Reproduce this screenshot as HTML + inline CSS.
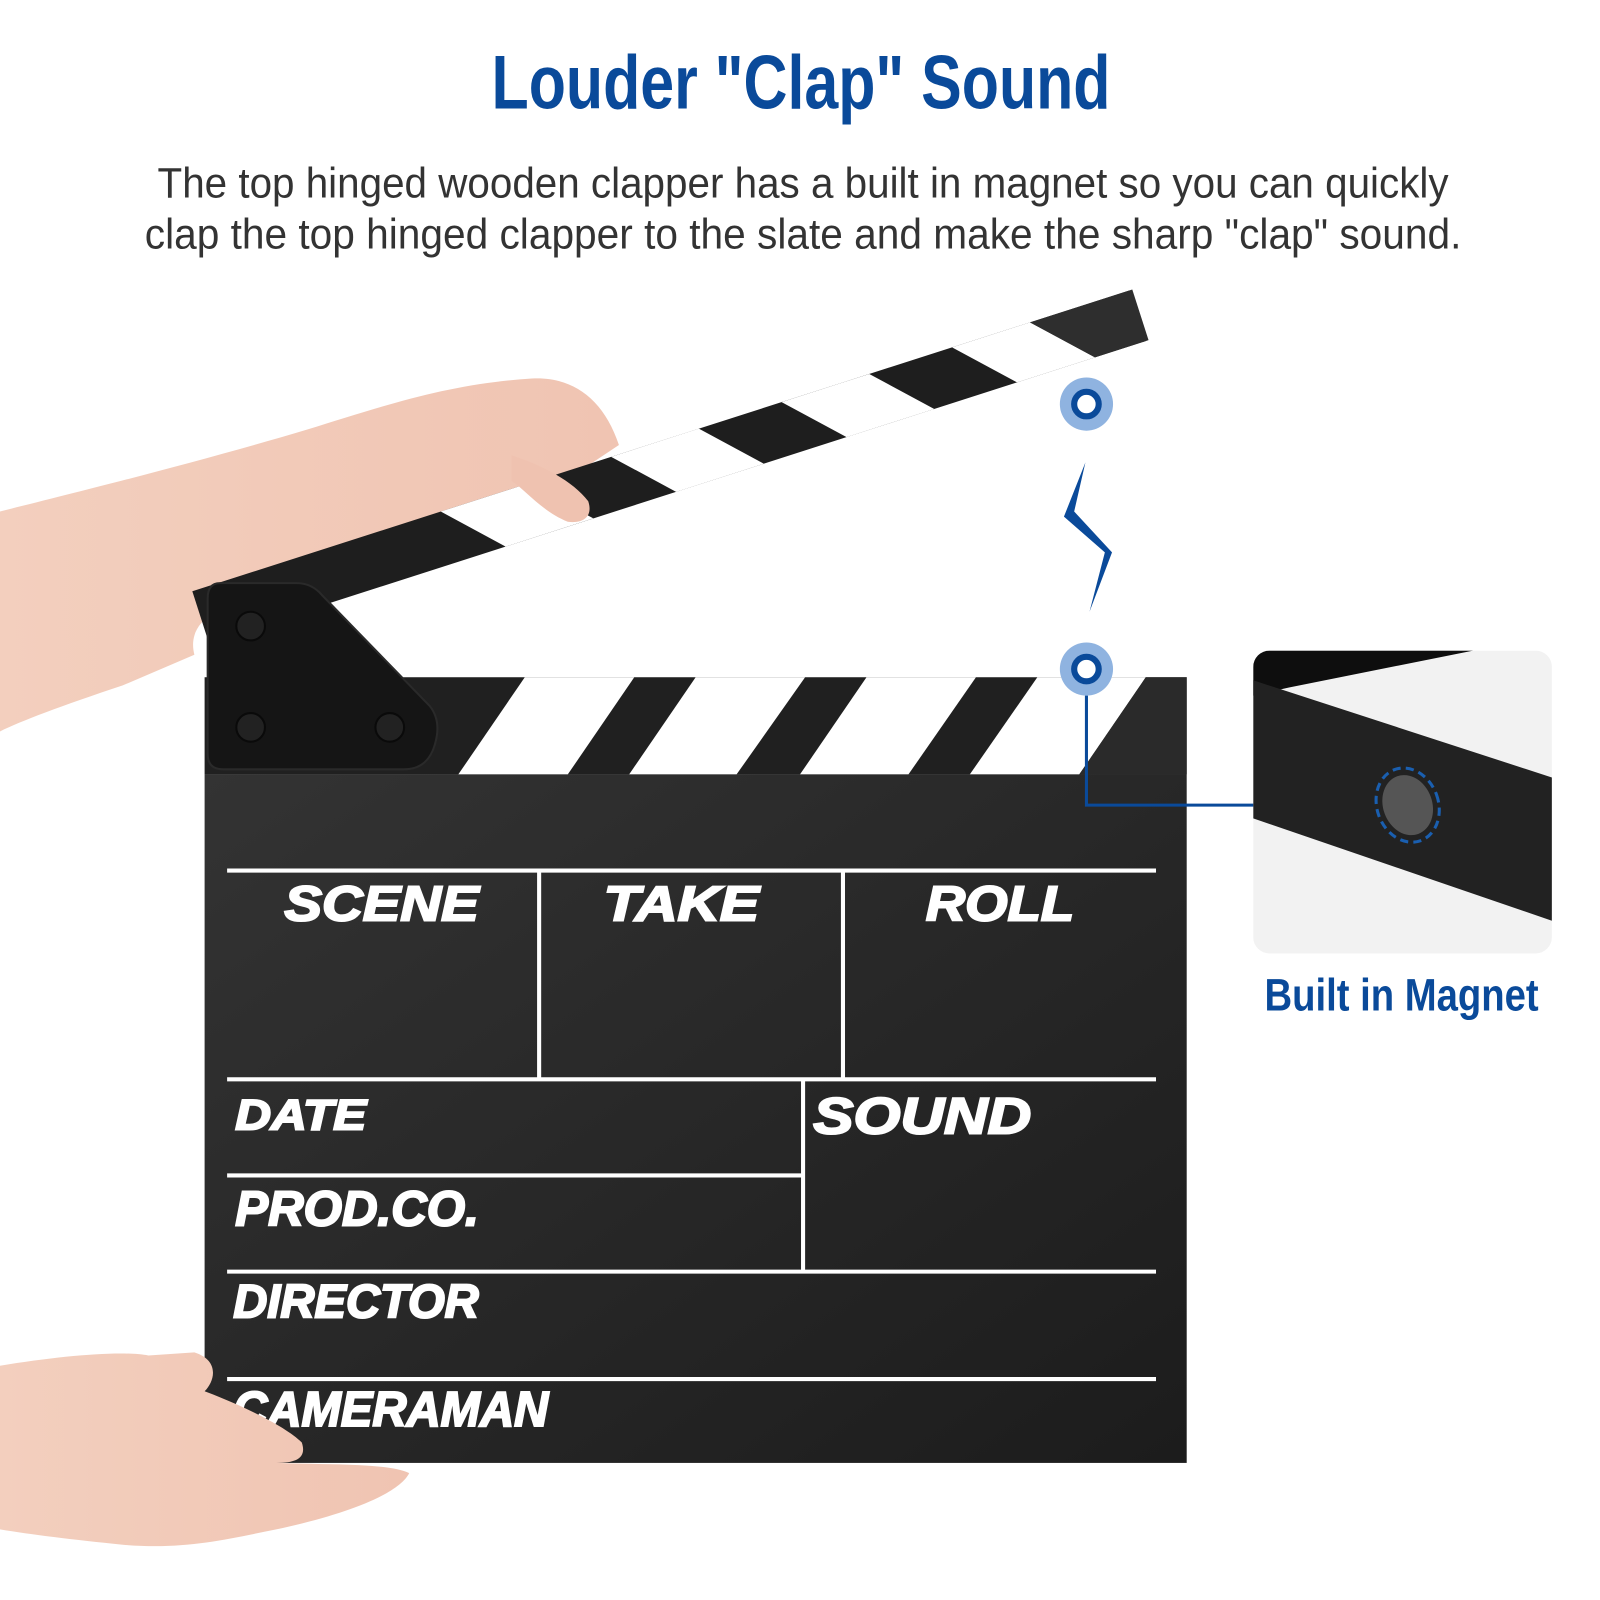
<!DOCTYPE html>
<html><head><meta charset="utf-8"><style>
html,body{margin:0;padding:0;background:#fff}
svg{display:block}
</style></head><body>
<svg width="1600" height="1600" viewBox="0 0 1564 1564" xmlns="http://www.w3.org/2000/svg">
<defs>
<linearGradient id="body" x1="0" y1="0" x2="1" y2="1">
<stop offset="0" stop-color="#333"/><stop offset="1" stop-color="#1c1c1c"/></linearGradient>
<linearGradient id="skin" x1="0" y1="0" x2="1" y2="0">
<stop offset="0" stop-color="#f3cfbe"/><stop offset="1" stop-color="#f0c4b2"/></linearGradient>
</defs>
<rect width="1564" height="1564" fill="#fff"/>
<text x="783" y="106" text-anchor="middle" font-family="Liberation Sans Narrow, Liberation Sans, sans-serif" font-weight="bold" font-size="74" fill="#0a4a9a" textLength="605" lengthAdjust="spacingAndGlyphs">Louder "Clap" Sound</text>
<text x="785" y="193" text-anchor="middle" font-family="Liberation Sans Narrow, Liberation Sans, sans-serif" font-size="42" fill="#333" textLength="1262" lengthAdjust="spacingAndGlyphs">The top hinged wooden clapper has a built in magnet so you can quickly</text>
<text x="785" y="243" text-anchor="middle" font-family="Liberation Sans Narrow, Liberation Sans, sans-serif" font-size="42" fill="#333" textLength="1287" lengthAdjust="spacingAndGlyphs">clap the top hinged clapper to the slate and make the sharp "clap" sound.</text>

<!-- upper arm/hand -->
<path d="M0,500 C80,480 200,450 300,420 C380,395 440,375 520,370 C560,368 590,390 605,435 L575,455 C585,480 580,505 555,510 L520,490 C450,520 380,535 300,560 C230,585 180,600 190,640 L120,670 C60,690 20,705 0,715 Z" fill="url(#skin)"/>

<!-- top clapper -->
<g transform="translate(188,578) rotate(-17.8)">
<rect x="0" y="0" width="962" height="52" fill="#1e1e1e"/>
<polygon points="255,0 345,0 395,52 305,52" fill="#fff"/>
<polygon points="430,0 520,0 570,52 480,52" fill="#fff"/>
<polygon points="605,0 695,0 745,52 655,52" fill="#fff"/>
<polygon points="780,0 860,0 910,52 830,52" fill="#fff"/>
<polygon points="860,0 965,0 965,52 910,52" fill="#2e2e2e"/>
</g>
<!-- thumb over clapper -->
<path d="M500,445 C530,455 560,470 575,490 C580,505 570,512 555,510 C530,500 515,480 500,470 Z" fill="#efc2b0"/>

<!-- bottom clapper bar -->
<rect x="200" y="662" width="960" height="95" fill="#202020"/>
<polygon points="513,662 620,662 555,757 448,757" fill="#fff"/>
<polygon points="680,662 787,662 720,757 615,757" fill="#fff"/>
<polygon points="847,662 954,662 888,757 782,757" fill="#fff"/>
<polygon points="1014,662 1120,662 1055,757 948,757" fill="#fff"/>
<polygon points="1120,662 1160,662 1160,757 1055,757" fill="#2a2a2a"/>

<!-- hinge plate -->
<path d="M215,570 L290,570 Q305,570 315,582 L420,690 Q432,705 425,728 Q418,752 395,752 L218,752 Q203,752 203,737 L203,585 Q203,570 215,570 Z" fill="#151515" stroke="#2a2a2a" stroke-width="2"/>
<circle cx="245" cy="612" r="14" fill="#222" stroke="#0a0a0a" stroke-width="2"/>
<circle cx="245" cy="711" r="14" fill="#222" stroke="#0a0a0a" stroke-width="2"/>
<circle cx="381" cy="711" r="14" fill="#222" stroke="#0a0a0a" stroke-width="2"/>

<!-- body -->
<rect x="200" y="757" width="960" height="673" fill="url(#body)"/>
<g stroke="#fff" stroke-width="4" fill="none">
<line x1="222" y1="851" x2="1130" y2="851"/>
<line x1="527" y1="851" x2="527" y2="1055"/>
<line x1="824" y1="851" x2="824" y2="1055"/>
<line x1="222" y1="1055" x2="1130" y2="1055"/>
<line x1="785" y1="1055" x2="785" y2="1243"/>
<line x1="222" y1="1149" x2="785" y2="1149"/>
<line x1="222" y1="1243" x2="1130" y2="1243"/>
<line x1="222" y1="1348" x2="1130" y2="1348"/>
</g>
<g font-family="Liberation Sans, sans-serif" font-weight="bold" font-style="italic" fill="#fff" stroke="#fff" stroke-width="2" lengthAdjust="spacingAndGlyphs">
<text x="278" y="900" font-size="48" textLength="190" lengthAdjust="spacingAndGlyphs">SCENE</text>
<text x="590" y="900" font-size="48" textLength="152" lengthAdjust="spacingAndGlyphs">TAKE</text>
<text x="905" y="900" font-size="48" textLength="145" lengthAdjust="spacingAndGlyphs">ROLL</text>
<text x="230" y="1104" font-size="42" textLength="128" lengthAdjust="spacingAndGlyphs">DATE</text>
<text x="795" y="1108" font-size="50" textLength="213" lengthAdjust="spacingAndGlyphs">SOUND</text>
<text x="230" y="1198" font-size="48" textLength="238" lengthAdjust="spacingAndGlyphs">PROD.CO.</text>
<text x="228" y="1288" font-size="46" textLength="240" lengthAdjust="spacingAndGlyphs">DIRECTOR</text>
<text x="228" y="1394" font-size="48" textLength="308" lengthAdjust="spacingAndGlyphs">CAMERAMAN</text>
</g>

<!-- lower hand -->
<path d="M0,1335 C60,1325 120,1320 145,1325 L190,1322 C215,1330 210,1350 200,1360 C240,1375 280,1395 295,1410 C300,1425 290,1430 270,1430 C320,1432 380,1430 400,1440 C390,1460 340,1480 270,1495 C220,1505 180,1515 120,1510 C70,1505 30,1500 0,1495 Z" fill="url(#skin)"/>

<!-- markers -->
<circle cx="1062" cy="395" r="26" fill="#8fb3e0"/>
<circle cx="1062" cy="395" r="12" fill="#fff" stroke="#0a4a9a" stroke-width="6"/>
<circle cx="1062" cy="654" r="26" fill="#8fb3e0"/>
<circle cx="1062" cy="654" r="12" fill="#fff" stroke="#0a4a9a" stroke-width="6"/>
<polygon points="1061,452 1040,505 1080,540 1065,598 1087,540 1050,500" fill="#0a4a9a"/>
<polyline points="1062,680 1062,787 1226,787" fill="none" stroke="#0a4a9a" stroke-width="3"/>

<!-- inset -->
<clipPath id="ic"><rect x="1225" y="636" width="292" height="296" rx="16"/></clipPath>
<g clip-path="url(#ic)">
<rect x="1225" y="636" width="292" height="296" fill="#f2f2f2"/>
<polygon points="1225,636 1440,636 1260,672 1225,680" fill="#0e0e0e"/>
<polygon points="1225,665 1517,760 1517,900 1225,800" fill="#222"/>
<ellipse cx="1376" cy="787" rx="24" ry="30" fill="#555" transform="rotate(-20 1376 787)"/>
<ellipse cx="1376" cy="787" rx="30" ry="37" fill="none" stroke="#1a5fb0" stroke-width="3" stroke-dasharray="8,5" transform="rotate(-20 1376 787)"/>
</g>
<text x="1370" y="988" text-anchor="middle" font-family="Liberation Sans Narrow, Liberation Sans, sans-serif" font-weight="bold" font-size="44" fill="#0a4a9a" textLength="268" lengthAdjust="spacingAndGlyphs">Built in Magnet</text>
</svg>
</body></html>
